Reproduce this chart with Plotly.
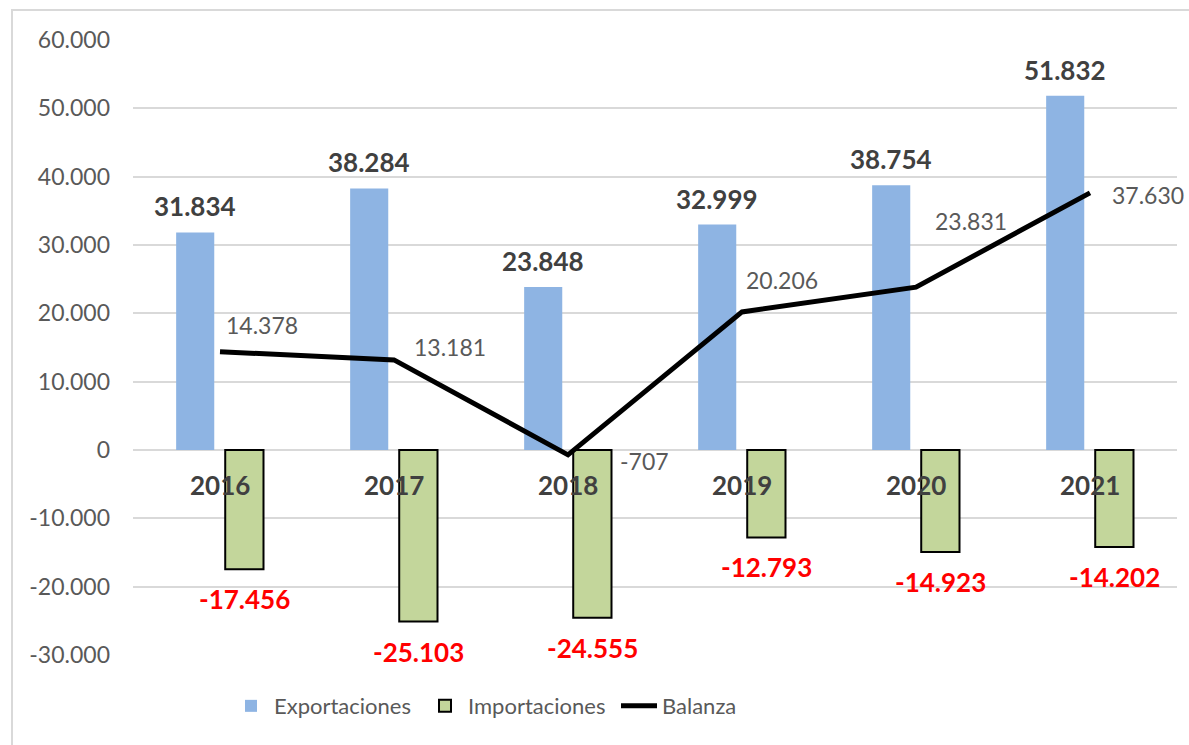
import plotly.graph_objects as go

years = ["2016", "2017", "2018", "2019", "2020", "2021"]
exportaciones = [31834, 38284, 23848, 32999, 38754, 51832]
importaciones = [-17456, -25103, -24555, -12793, -14923, -14202]
balanza = [14378, 13181, -707, 20206, 23831, 37630]
tick_vals = [-30000, -20000, -10000, 0, 10000, 20000, 30000, 40000, 50000, 60000]
tick_text = ["-30.000", "-20.000", "-10.000", "0", "10.000", "20.000", "30.000", "40.000", "50.000", "60.000"]


def fmt(v):
    s = f"{abs(v):,}".replace(",", ".")
    return ("-" if v < 0 else "") + s


FONT = "Lato"
GRAY = "#595959"
DARK = "#404040"

EXP_OFF, EXP_W = -0.252, 0.219
IMP_OFF, IMP_W = 0.03, 0.22

fig = go.Figure()
fig.add_trace(go.Bar(
    x=years, y=exportaciones, name="Exportaciones",
    marker=dict(color="#8EB4E3", line=dict(width=0)),
    width=EXP_W, offset=EXP_OFF,
))
fig.add_trace(go.Bar(
    x=years, y=importaciones, name="Importaciones",
    marker=dict(color="#C3D69B", line=dict(color="black", width=2)),
    width=IMP_W, offset=IMP_OFF,
))
fig.add_trace(go.Scatter(
    x=years, y=balanza, name="Balanza", mode="lines",
    line=dict(color="black", width=5),
))

annotations = []
for i, v in enumerate(exportaciones):
    annotations.append(dict(
        x=i + EXP_OFF + EXP_W / 2, y=v, xref="x", yref="y", text=f"<b>{fmt(v)}</b>",
        showarrow=False, yanchor="middle", yshift=26,
        font=dict(family=FONT, size=26, color=DARK)))
for i, v in enumerate(importaciones):
    annotations.append(dict(
        x=i + IMP_OFF + IMP_W / 2, y=v, xref="x", yref="y", text=f"<b>{fmt(v)}</b>",
        showarrow=False, yanchor="middle", yshift=-30,
        font=dict(family=FONT, size=26, color="#FF0000")))
bal_shift = [(42, 27), (56, 13), (76, -6), (40, 32), (55, 66), (58, -2)]
for i, v in enumerate(balanza):
    dx, dy = bal_shift[i]
    annotations.append(dict(
        x=i, y=v, xref="x", yref="y", text=fmt(v),
        showarrow=False, xshift=dx, yshift=dy, yanchor="middle",
        font=dict(family=FONT, size=23, color=GRAY)))
for i, yr in enumerate(years):
    annotations.append(dict(
        x=i, y=0, xref="x", yref="y", text=f"<b>{yr}</b>",
        showarrow=False, yanchor="middle", yshift=-35,
        font=dict(family=FONT, size=26, color=DARK)))

fig.update_layout(
    width=1189, height=745,
    margin=dict(l=133, r=12, t=40, b=90),
    paper_bgcolor="white", plot_bgcolor="white",
    barmode="overlay",
    showlegend=True,
    legend=dict(orientation="h", x=0.091, xanchor="left", y=-0.083, yanchor="middle",
                font=dict(family=FONT, size=22, color=GRAY), traceorder="normal",
                itemwidth=36, entrywidth=143, entrywidthmode="pixels"),
    xaxis=dict(showticklabels=False, showgrid=False, zeroline=False, showline=False,
               range=[-0.5, 5.5]),
    yaxis=dict(range=[-30000, 60000], tickvals=tick_vals, ticktext=tick_text,
               showgrid=True, gridcolor="#D9D9D9", gridwidth=1.5,
               zeroline=True, zerolinecolor="#D9D9D9", zerolinewidth=1.5,
               tickfont=dict(family=FONT, size=23, color=GRAY), ticklen=0,
               ticks="", ticklabelstandoff=22),
    annotations=annotations,
    shapes=[dict(type="rect", xref="paper", yref="paper",
                 x0=(12 - 133) / 1044, x1=1.05, y0=-0.2, y1=1 + 30 / 615,
                 line=dict(color="#D9D9D9", width=2), fillcolor="rgba(0,0,0,0)", layer="below")],
)

fig.write_html("out.html", config={"displayModeBar": False},
               post_script="document.body.style.margin='0';")
